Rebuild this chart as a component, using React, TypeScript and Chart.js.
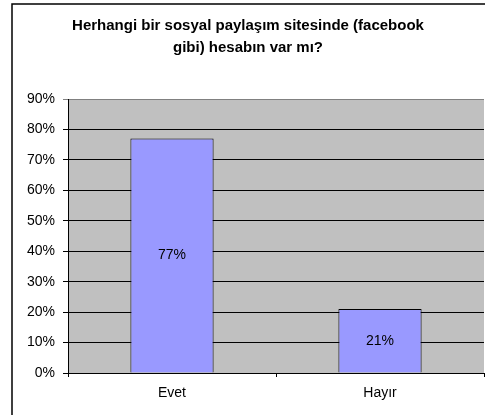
import React, { useEffect, useRef } from "react";
import { Chart, registerables } from "chart.js";

Chart.register(...registerables);

const titleLines = ["Herhangi bir sosyal paylaşım sitesinde (facebook", "gibi) hesabın var mı?"];
const categories = ["Evet", "Hayır"];
const values = [77, 21];
const yTicks = [0, 10, 20, 30, 40, 50, 60, 70, 80, 90];

const FONT = "Arial, 'Liberation Sans', sans-serif";

const framePlugin = {
  id: "frame",
  beforeDraw(chart: any) {
    const { ctx, chartArea } = chart;
    ctx.save();
    ctx.fillStyle = "#fff";
    ctx.fillRect(0, 0, chart.width, chart.height);
    ctx.fillStyle = "#C0C0C0";
    ctx.fillRect(chartArea.left, chartArea.top, chartArea.right - chartArea.left, chartArea.bottom - chartArea.top);
    ctx.strokeStyle = "#000";
    ctx.lineWidth = 1.5;
    ctx.beginPath();
    ctx.moveTo(12, chart.height);
    ctx.lineTo(12, 4);
    ctx.lineTo(chart.width, 4);
    ctx.stroke();
    ctx.restore();
  },
  afterDatasetsDraw(chart: any) {
    const { ctx } = chart;
    const meta = chart.getDatasetMeta(0);
    ctx.save();
    ctx.fillStyle = "#000";
    ctx.font = `14px ${FONT}`;
    ctx.textAlign = "center";
    ctx.textBaseline = "middle";
    meta.data.forEach((bar: any, i: number) => {
      const y = (bar.y + bar.base) / 2;
      ctx.fillText(`${values[i]}%`, bar.x, y);
    });
    ctx.restore();
  },
};

export default function App() {
  const ref = useRef<HTMLCanvasElement>(null);
  useEffect(() => {
    const chart = new Chart(ref.current!, {
      type: "bar",
      data: {
        labels: categories,
        datasets: [
          {
            data: values,
            backgroundColor: "#9999FF",
            borderColor: "#000",
            borderWidth: 1,
            categoryPercentage: 1,
            barPercentage: 0.4,
          },
        ],
      },
      plugins: [framePlugin],
      options: {
        responsive: false,
        animation: false,
        layout: { padding: { left: 12, right: 1, top: 0, bottom: 0 } },
        plugins: {
          legend: { display: false },
          tooltip: { enabled: false },
          title: {
            display: true,
            text: titleLines,
            color: "#000",
            font: { family: FONT, size: 15, weight: "bold", lineHeight: 1.467 },
            padding: { top: 15, bottom: 40 },
          },
        },
        scales: {
          x: {
            offset: true,
            grid: { offset: true, drawOnChartArea: false, drawTicks: true, tickLength: 4, color: "#000" },
            border: { display: true, color: "#000", width: 1 },
            ticks: { color: "#000", font: { family: FONT, size: 14 }, padding: 8 },
            afterFit(scale: any) {
              scale.height = 42;
            },
          },
          y: {
            min: 0,
            max: 90,
            afterBuildTicks(scale: any) {
              scale.ticks = yTicks.map((v) => ({ value: v }));
            },
            grid: {
              color: (c: any) => (c.tick && c.tick.value === 90 ? "#808080" : "#000"),
              lineWidth: 1,
              tickLength: 5,
            },
            border: { display: true, color: "#000", width: 1 },
            ticks: {
              color: "#000",
              font: { family: FONT, size: 14 },
              padding: 8,
              callback: (v: any) => `${v}%`,
            },
            afterFit(scale: any) {
              scale.width = 56;
            },
          },
        },
      },
    } as any);
    return () => chart.destroy();
  }, []);
  return (
    <div style={{ position: "fixed", left: 0, top: 0 }}>
      <canvas ref={ref} width={485} height={415} style={{ display: "block" }} />
    </div>
  );
}
